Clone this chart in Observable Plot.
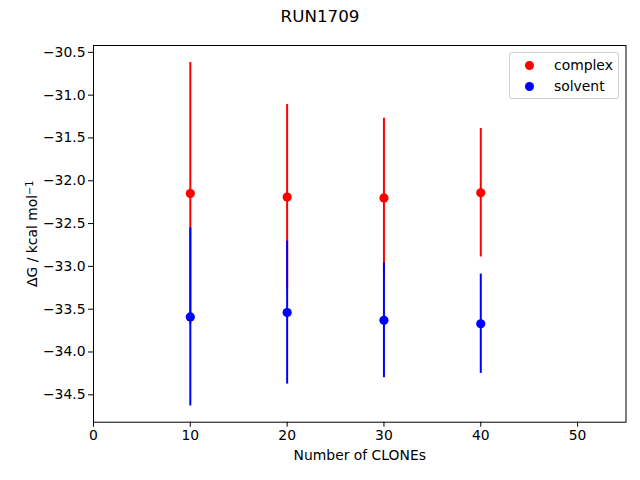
<!DOCTYPE html>
<html>
<head>
<meta charset="utf-8">
<script src="https://cdn.jsdelivr.net/npm/d3@7"></script>
<script src="https://cdn.jsdelivr.net/npm/@observablehq/plot@0.6"></script>
<style>
  body { margin: 0; background: white; font-family: "DejaVu Sans", sans-serif; }
  #wrap { position: relative; width: 640px; height: 480px; }
  #title { height: 32px; line-height: 32px; text-align: center; font-size: 16.7px; color: black; }
  #legend { position: absolute; left: 509px; top: 52px; width: 108px; height: 45px; border: 1px solid #d0d0d0; border-radius: 3px; background: rgba(255,255,255,0.8); font-size: 13.9px; }
  .item { position: absolute; left: 0; height: 20px; line-height: 20px; }
  .sw { position: absolute; left: 15px; top: 5.5px; width: 9px; height: 9px; border-radius: 50%; }
  .lab { position: absolute; left: 44px; top: 0; white-space: nowrap; }
</style>
</head>
<body>
<div id="wrap">
  <div id="title"></div>
  <div id="chart"></div>
  <div id="legend"></div>
</div>
<script>
const title = "RUN1709";
const clones = [10, 20, 30, 40];
const complexMean = [-32.15, -32.19, -32.20, -32.14];
const complexErr = [1.53, 1.08, 0.93, 0.75];
const solventMean = [-33.59, -33.54, -33.63, -33.67];
const solventErr = [1.04, 0.835, 0.67, 0.58];
const seriesNames = ["complex", "solvent"];
const seriesColors = ["red", "blue"];
const xTicks = [0, 10, 20, 30, 40, 50];
const yTicks = [-30.5, -31.0, -31.5, -32.0, -32.5, -33.0, -33.5, -34.0, -34.5];
const xLabel = "Number of CLONEs";
const yLabelBase = "ΔG / kcal mol";
const yLabelSup = "−1";

document.getElementById("title").textContent = title;

const complexRows = clones.map((c, i) => ({x: c, y: complexMean[i], lo: complexMean[i] - complexErr[i], hi: complexMean[i] + complexErr[i]}));
const solventRows = clones.map((c, i) => ({x: c, y: solventMean[i], lo: solventMean[i] - solventErr[i], hi: solventMean[i] + solventErr[i]}));

const fmt = d3.format(".1f");
const chart = Plot.plot({
  width: 640,
  height: 448,
  marginLeft: 93,
  marginRight: 14.5,
  marginTop: 13,
  marginBottom: 58.3,
  style: {fontFamily: "DejaVu Sans, sans-serif", fontSize: "13.9px", color: "black", background: "white"},
  x: {domain: [0, 55]},
  y: {domain: [-34.82, -30.42]},
  marks: [
    Plot.ruleX(complexRows, {x: "x", y1: "lo", y2: "hi", stroke: seriesColors[0], strokeWidth: 2}),
    Plot.dot(complexRows, {x: "x", y: "y", r: 4.6, fill: seriesColors[0], stroke: "none"}),
    Plot.ruleX(solventRows, {x: "x", y1: "lo", y2: "hi", stroke: seriesColors[1], strokeWidth: 2}),
    Plot.dot(solventRows, {x: "x", y: "y", r: 4.6, fill: seriesColors[1], stroke: "none"}),
    Plot.axisX({ticks: xTicks, tickSize: 5, tickPadding: 3, tickFormat: d => d, label: xLabel, labelAnchor: "center", labelArrow: "none", labelOffset: 38}),
    Plot.axisY({ticks: yTicks, tickSize: 5, tickPadding: 3, tickFormat: fmt, label: yLabelBase + yLabelSup, labelAnchor: "center", labelArrow: "none", labelOffset: 66}),
    Plot.frame({stroke: "black", strokeWidth: 1})
  ]
});
document.getElementById("chart").appendChild(chart);

// Render the unit exponent as a real superscript
const yl = chart.querySelector('g[aria-label="y-axis label"] text');
if (yl) {
  yl.textContent = yLabelBase;
  const sup = document.createElementNS("http://www.w3.org/2000/svg", "tspan");
  sup.setAttribute("dy", "-0.45em");
  sup.setAttribute("font-size", "9.7px");
  sup.textContent = yLabelSup;
  yl.appendChild(sup);
}

const legend = document.getElementById("legend");
seriesNames.forEach((n, i) => {
  const item = document.createElement("div");
  item.className = "item";
  item.style.top = (2 + i * 21) + "px";
  item.style.width = "100%";
  const sw = document.createElement("div");
  sw.className = "sw";
  sw.style.background = seriesColors[i];
  const lab = document.createElement("div");
  lab.className = "lab";
  lab.textContent = n;
  item.appendChild(sw);
  item.appendChild(lab);
  legend.appendChild(item);
});
</script>
</body>
</html>
